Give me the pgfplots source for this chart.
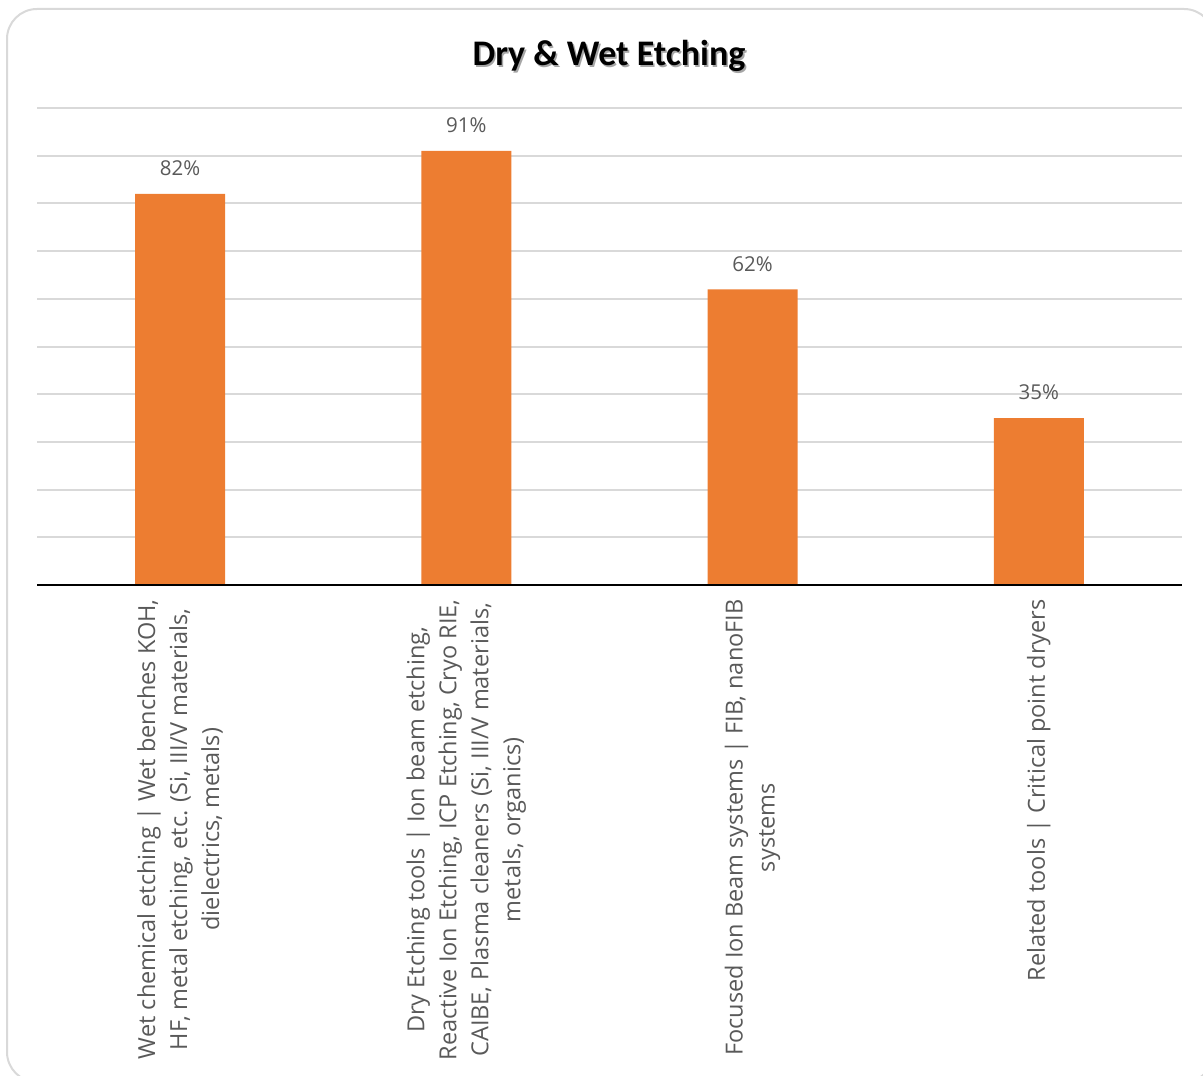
\documentclass[border=0pt]{standalone}
\usepackage{pgfplots}
\pgfplotsset{compat=1.18}
\usepackage{fontspec}
\setmainfont{Open Sans}
\newfontfamily\titlefont{Carlito}
\definecolor{barorange}{HTML}{ED7D31}
\definecolor{gridgray}{HTML}{D9D9D9}
\definecolor{labelgray}{HTML}{595959}
\definecolor{framegray}{HTML}{D9D9D9}
\begin{document}
\begin{tikzpicture}
\useasboundingbox (0pt,0pt) rectangle (601.5pt,-537.5pt);
\clip (0pt,0pt) rectangle (601.5pt,-537.5pt);
% chart frame
\draw[framegray, line width=1pt, rounded corners=15pt] (3.5pt,-4.5pt) rectangle (607pt,-541pt);
% title with soft shadow
\node[text=black!35, font=\titlefont\bfseries\fontsize{18}{22}\selectfont] at (305.3pt,-28.8pt) {Dry \& Wet Etching};
\node[text=black, font=\titlefont\bfseries\fontsize{18}{22}\selectfont] at (304.5pt,-28pt) {Dry \& Wet Etching};
\begin{axis}[
  at={(18.5pt,-292.5pt)}, anchor=south west,
  scale only axis,
  width=572.5pt, height=238.5pt,
  xmin=-0.5, xmax=3.5,
  ymin=0, ymax=100,
  axis line style={draw=none},
  ytick={10,20,...,100},
  yticklabels={},
  ymajorgrids,
  grid style={gridgray, line width=1pt},
  major tick length=0pt,
  xtick=data,
  xticklabels={
    {Wet chemical etching | Wet benches KOH,\\HF, metal etching, etc. (Si, III/V materials,\\dielectrics, metals)},
    {Dry Etching tools | Ion beam etching,\\Reactive Ion Etching, ICP Etching, Cryo RIE,\\CAIBE, Plasma cleaners (Si, III/V materials,\\metals, organics)},
    {Focused Ion Beam systems | FIB, nanoFIB\\systems},
    {Related tools | Critical point dryers}
  },
  xticklabel shift=5pt,
  xticklabel style={rotate=90, anchor=east, align=center, text=labelgray,
    font=\fontsize{11.75}{16}\selectfont, inner sep=2pt},
  ybar,
  bar width=45pt,
  nodes near coords={\pgfmathprintnumber[assume math mode=true]{\pgfplotspointmeta}\%},
  nodes near coords style={anchor=south, yshift=5.5pt, text=labelgray,
    font=\fontsize{10.25}{12}\selectfont},
]
\addplot[fill=barorange, draw=none] coordinates {(0,82) (1,91) (2,62) (3,35)};
% category axis baseline
\draw[black, line width=1pt] (axis cs:-0.5,0) -- (axis cs:3.5,0);
\end{axis}
\end{tikzpicture}
\end{document}
